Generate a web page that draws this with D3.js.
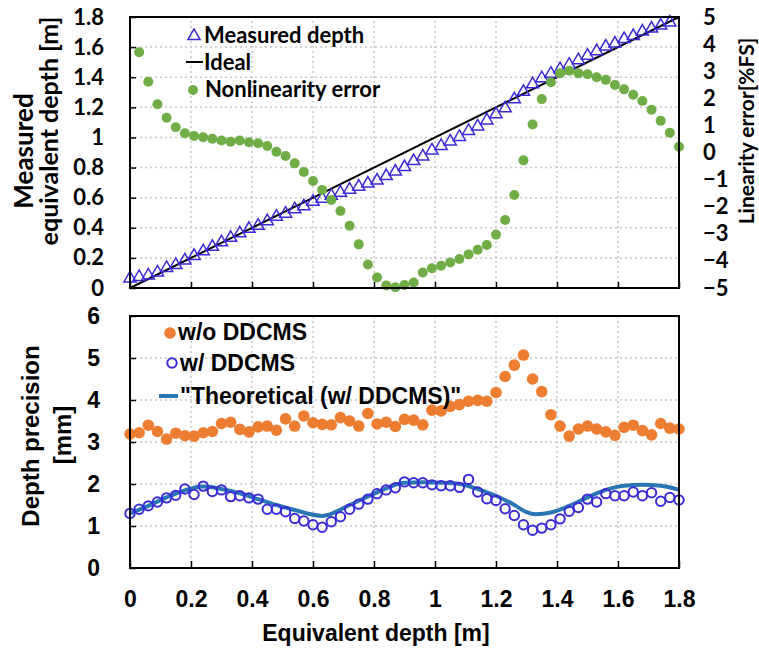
<!DOCTYPE html>
<html>
<head>
<meta charset="utf-8">
<script src="https://cdn.jsdelivr.net/npm/d3@7"></script>
<style>
  body { margin: 0; background: #fff; }
</style>
</head>
<body>
<div id="canvas"></div>
<script>
// sample depths [m] (every 30 mm)
const sampleDepth = [0, 0.03, 0.06, 0.09, 0.12, 0.15, 0.18, 0.21, 0.24, 0.27, 0.3, 0.33, 0.36, 0.39, 0.42, 0.45, 0.48, 0.51, 0.54, 0.57, 0.6,
  0.63, 0.66, 0.69, 0.72, 0.75, 0.78, 0.81, 0.84, 0.87, 0.9, 0.93, 0.96, 0.99, 1.02, 1.05, 1.08, 1.11, 1.14, 1.17, 1.2,
  1.23, 1.26, 1.29, 1.32, 1.35, 1.38, 1.41, 1.44, 1.47, 1.5, 1.53, 1.56, 1.59, 1.62, 1.65, 1.68, 1.71, 1.74, 1.77, 1.8];

// top panel
const measuredDepth = [0.07, 0.08, 0.09, 0.11, 0.14, 0.16, 0.19, 0.22, 0.25, 0.28, 0.31, 0.34, 0.37, 0.40, 0.42, 0.45, 0.48, 0.50, 0.53, 0.55,
  0.58, 0.60, 0.62, 0.64, 0.66, 0.68, 0.70, 0.72, 0.75, 0.78, 0.81, 0.85, 0.88, 0.92, 0.95, 0.98, 1.01, 1.05, 1.08, 1.12,
  1.16, 1.20, 1.26, 1.31, 1.36, 1.40, 1.43, 1.46, 1.49, 1.52, 1.55, 1.58, 1.61, 1.63, 1.66, 1.68, 1.71, 1.73, 1.75, 1.77];
const nonlinError = [3.70, 2.61, 1.78, 1.28, 0.93, 0.71, 0.61, 0.56, 0.51, 0.44, 0.40, 0.44, 0.38, 0.34, 0.24, 0.03, -0.13, -0.40, -0.72, -1.05,
  -1.38, -1.75, -2.16, -2.70, -3.39, -4.13, -4.61, -4.91, -4.97, -4.89, -4.80, -4.43, -4.27, -4.18, -4.06, -3.93, -3.76, -3.59, -3.41, -3.03,
  -2.49, -1.57, -0.29, 1.03, 1.97, 2.59, 2.92, 3.02, 2.92, 2.89, 2.78, 2.68, 2.49, 2.33, 2.13, 1.90, 1.58, 1.17, 0.73, 0.21];
const idealX = [0, 1.8];
const idealY = [0, 1.8];

// bottom panel
const withoutDDCMS = [3.19, 3.22, 3.40, 3.25, 3.07, 3.21, 3.15, 3.14, 3.22, 3.25, 3.44, 3.47, 3.30, 3.24, 3.36, 3.38, 3.28, 3.55, 3.38, 3.62,
  3.46, 3.42, 3.41, 3.58, 3.50, 3.38, 3.68, 3.43, 3.47, 3.37, 3.54, 3.52, 3.41, 3.76, 3.74, 3.85, 3.89, 3.97, 3.99, 3.97,
  4.18, 4.56, 4.83, 5.07, 4.50, 4.20, 3.65, 3.38, 3.14, 3.31, 3.38, 3.31, 3.24, 3.16, 3.35, 3.40, 3.27, 3.17, 3.44, 3.33, 3.31];
const withDDCMS = [1.30, 1.40, 1.48, 1.57, 1.67, 1.73, 1.88, 1.75, 1.95, 1.82, 1.86, 1.70, 1.72, 1.67, 1.64, 1.40, 1.40, 1.34, 1.18, 1.12,
  1.03, 0.97, 1.10, 1.22, 1.40, 1.52, 1.64, 1.77, 1.86, 1.91, 2.05, 2.03, 2.03, 1.98, 1.96, 1.96, 1.92, 2.11, 1.81, 1.65,
  1.61, 1.41, 1.25, 1.03, 0.90, 0.95, 1.03, 1.17, 1.35, 1.44, 1.64, 1.57, 1.77, 1.72, 1.72, 1.81, 1.72, 1.79, 1.59, 1.68, 1.62];
const theoryX = [0, 0.06, 0.12, 0.18, 0.24, 0.3, 0.36, 0.42, 0.48, 0.54, 0.63, 0.72, 0.81, 0.9, 0.96, 1.02, 1.08, 1.14, 1.2, 1.26,
  1.3, 1.33, 1.38, 1.44, 1.5, 1.56, 1.62, 1.68, 1.74, 1.8];
const theoryY = [1.30, 1.48, 1.68, 1.85, 1.94, 1.88, 1.78, 1.64, 1.50, 1.38, 1.24, 1.50, 1.80, 2.03, 2.04, 2.03, 2.00, 1.88, 1.72, 1.50,
  1.33, 1.28, 1.32, 1.48, 1.68, 1.86, 1.96, 1.98, 1.96, 1.86];

const depthTicks = [0, 0.2, 0.4, 0.6, 0.8, 1, 1.2, 1.4, 1.6, 1.8];
const measuredTicks = [0, 0.2, 0.4, 0.6, 0.8, 1, 1.2, 1.4, 1.6, 1.8];
const errorTicks = [-5, -4, -3, -2, -1, 0, 1, 2, 3, 4, 5];
const precisionTicks = [0, 1, 2, 3, 4, 5, 6];

const calibri = "Lato, 'Open Sans', sans-serif";
const arial = "'Liberation Sans', Arial, sans-serif";
const green = "#70ad47";
const orange = "#ed7d31";
const violet = "#3a2bd6";
const teal = "#2a76b4";

const svg = d3.select("#canvas")
.append("svg")
.attr("width", 759)
.attr("height", 651);

const x = d3.scaleLinear().domain([0, 1.8]).range([130, 679]);
const yTop = d3.scaleLinear().domain([0, 1.8]).range([288, 17]);
const yErr = d3.scaleLinear().domain([-5, 5]).range([288, 17]);
const yBot = d3.scaleLinear().domain([0, 6]).range([568, 316]);

function grid(yScale, yVals) {
    const g = svg.append("g")
    .attr("stroke", "#c8c8c8")
    .attr("stroke-width", 1.5)
    .attr("stroke-dasharray", "2,3");
    const [y0, y1] = yScale.range();
    g.selectAll(".v").data(depthTicks.slice(1, -1)).join("line")
    .attr("x1", d => x(d)).attr("x2", d => x(d))
    .attr("y1", y0).attr("y2", y1);
    g.selectAll(".h").data(yVals).join("line")
    .attr("x1", x(0)).attr("x2", x(1.8))
    .attr("y1", d => yScale(d)).attr("y2", d => yScale(d));
}

function frame(yScale) {
    const [y0, y1] = yScale.range();
    svg.append("rect")
    .attr("x", x(0)).attr("y", y1)
    .attr("width", x(1.8) - x(0)).attr("height", y0 - y1)
    .attr("fill", "none")
    .attr("stroke", "#000")
    .attr("stroke-width", 2);
}

function styleAxis(g, font, size) {
    g.select(".domain").remove();
    g.selectAll(".tick line").attr("stroke", "#000").attr("stroke-width", 1.5);
    g.selectAll(".tick text")
    .attr("fill", "#000")
    .style("font-family", font)
    .style("font-weight", "bold")
    .style("font-size", size + "px");
}

function vtitle(cx, cy, txt, font, size, weight) {
    svg.append("text")
    .attr("transform", `translate(${cx},${cy}) rotate(-90)`)
    .attr("text-anchor", "middle").attr("dominant-baseline", "central")
    .style("font-family", font).style("font-weight", weight).style("font-size", size + "px")
    .text(txt);
}

// ---------- top panel ----------
grid(yTop, measuredTicks.slice(1, -1));

svg.append("path")
.attr("d", d3.line().x(d => x(d[0])).y(d => yTop(d[1]))(d3.zip(idealX, idealY)))
.attr("stroke", "#000")
.attr("stroke-width", 2);

const tri = d3.symbol(d3.symbolTriangle, 64);
svg.append("g").selectAll("path")
.data(measuredDepth)
.join("path")
.attr("d", tri)
.attr("transform", (d, i) => `translate(${x(sampleDepth[i])},${yTop(d) + 1})`)
.attr("fill", "none")
.attr("stroke", violet)
.attr("stroke-width", 1.5);

svg.append("g").selectAll("circle")
.data(nonlinError)
.join("circle")
.attr("cx", (d, i) => x(sampleDepth[i + 1]))
.attr("cy", d => yErr(d))
.attr("r", 5)
.attr("fill", green);

frame(yTop);

svg.append("g")
.attr("transform", `translate(${x(0)},0)`)
.call(d3.axisLeft(yTop).tickValues(measuredTicks).tickSize(-6).tickPadding(26).tickFormat(d3.format("~g")))
.call(g => styleAxis(g, calibri, 22));

svg.append("g")
.attr("transform", `translate(0,${yTop(0)})`)
.call(d3.axisBottom(x).tickValues(depthTicks).tickSize(-6).tickFormat(""))
.call(g => styleAxis(g, calibri, 22));

svg.append("g")
.attr("transform", `translate(${x(1.8)},0)`)
.call(d3.axisRight(yErr).tickValues(errorTicks).tickSize(0).tickPadding(24).tickFormat(d3.format("d")))
.call(g => styleAxis(g, calibri, 22));

// top legend
const legTop = svg.append("g").style("font-family", calibri).style("font-weight", "bold").style("font-size", "22px");
legTop.append("path").attr("d", tri).attr("transform", "translate(194,36)")
.attr("fill", "none").attr("stroke", violet).attr("stroke-width", 1.5);
legTop.append("text").attr("x", 204).attr("y", 43).text("Measured depth");
legTop.append("line").attr("x1", 186).attr("x2", 203).attr("y1", 62).attr("y2", 62)
.attr("stroke", "#000").attr("stroke-width", 2);
legTop.append("text").attr("x", 204).attr("y", 70).text("Ideal");
legTop.append("circle").attr("cx", 193).attr("cy", 90).attr("r", 5).attr("fill", green);
legTop.append("text").attr("x", 205).attr("y", 97).text("Nonlinearity error");

// top titles
vtitle(23, 151, "Measured", calibri, 26, "bold");
vtitle(48, 131, "equivalent depth [m]", calibri, 25, "bold");
vtitle(745, 131, "Linearity error[%FS]", calibri, 21, "bold");

// ---------- bottom panel ----------
grid(yBot, precisionTicks.slice(1, -1));

svg.append("g").selectAll("circle")
.data(withoutDDCMS)
.join("circle")
.attr("cx", (d, i) => x(sampleDepth[i]))
.attr("cy", d => yBot(d))
.attr("r", 5.8)
.attr("fill", orange);

svg.append("path")
.attr("d", d3.line().x(d => x(d[0])).y(d => yBot(d[1])).curve(d3.curveMonotoneX)(d3.zip(theoryX, theoryY)))
.attr("fill", "none")
.attr("stroke", teal)
.attr("stroke-width", 4);

svg.append("g").selectAll("circle")
.data(withDDCMS)
.join("circle")
.attr("cx", (d, i) => x(sampleDepth[i]))
.attr("cy", d => yBot(d))
.attr("r", 4.7)
.attr("fill", "none")
.attr("stroke", violet)
.attr("stroke-width", 2);

frame(yBot);

svg.append("g")
.attr("transform", `translate(${x(0)},0)`)
.call(d3.axisLeft(yBot).tickValues(precisionTicks).tickSize(-6).tickPadding(30).tickFormat(d3.format("d")))
.call(g => styleAxis(g, arial, 23));

svg.append("g")
.attr("transform", `translate(0,${yBot(0)})`)
.call(d3.axisBottom(x).tickValues(depthTicks).tickSize(-7).tickPadding(23).tickFormat(d3.format("~g")))
.call(g => styleAxis(g, arial, 23));

// bottom legend
const legBot = svg.append("g").style("font-family", arial).style("font-weight", "bold").style("font-size", "23px");
legBot.append("circle").attr("cx", 170).attr("cy", 333).attr("r", 5.8).attr("fill", orange);
legBot.append("text").attr("x", 178).attr("y", 340).text("w/o DDCMS");
legBot.append("circle").attr("cx", 172).attr("cy", 363).attr("r", 4.7)
.attr("fill", "none").attr("stroke", violet).attr("stroke-width", 2);
legBot.append("text").attr("x", 180).attr("y", 371).text("w/ DDCMS");
legBot.append("line").attr("x1", 159).attr("x2", 178).attr("y1", 396).attr("y2", 396)
.attr("stroke", teal).attr("stroke-width", 4);
legBot.append("text").attr("x", 180).attr("y", 404).text("\"Theoretical (w/ DDCMS)\"");

// bottom titles
vtitle(30, 436, "Depth precision", arial, 24, "bold");
vtitle(62, 435, "[mm]", arial, 24, "bold");
svg.append("text")
.attr("x", 376).attr("y", 641)
.attr("text-anchor", "middle")
.style("font-family", arial).style("font-weight", "bold").style("font-size", "23px")
.text("Equivalent depth [m]");
</script>
</body>
</html>
